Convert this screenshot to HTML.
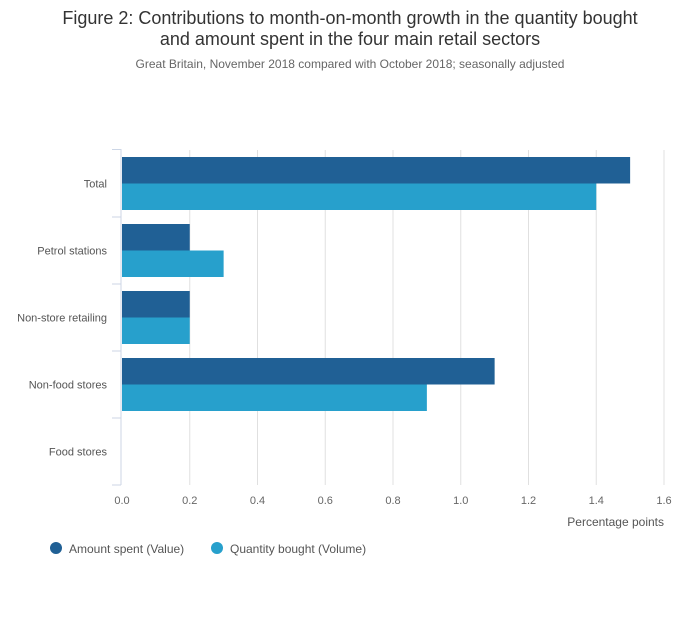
<!DOCTYPE html>
<html><head><meta charset="utf-8"><style>
body{margin:0;background:#fff;font-family:"Liberation Sans",sans-serif;}
svg text{font-family:"Liberation Sans",sans-serif;}
</style></head><body>
<svg id="c" width="700" height="635" xmlns="http://www.w3.org/2000/svg">
<text x="350" y="24" text-anchor="middle" font-size="18" fill="#333">Figure 2: Contributions to month-on-month growth in the quantity bought</text>
<text x="350" y="45" text-anchor="middle" font-size="18" fill="#333">and amount spent in the four main retail sectors</text>
<text x="350" y="68" text-anchor="middle" font-size="12" fill="#666">Great Britain, November 2018 compared with October 2018; seasonally adjusted</text>
<g id="grid"></g><g id="bars"></g><g id="axes"></g>
<text x="664" y="526" text-anchor="end" font-size="12" fill="#555">Percentage points</text>
<g>
<circle cx="56" cy="548" r="6" fill="#206095"/>
<text x="69" y="553" font-size="12" fill="#555">Amount spent (Value)</text>
<circle cx="217" cy="548" r="6" fill="#27a0cc"/>
<text x="230" y="553" font-size="12" fill="#555">Quantity bought (Volume)</text>
</g>
</svg>
<script>
const categories=["Total","Petrol stations","Non-store retailing","Non-food stores","Food stores"];
const valueSeries=[1.5,0.2,0.2,1.1,0];
const volumeSeries=[1.4,0.3,0.2,0.9,0];
const xTicks=[0,0.2,0.4,0.6,0.8,1.0,1.2,1.4,1.6];
const ns="http://www.w3.org/2000/svg";
const X0=122,X1=664,XMAX=1.6,Y0=150,BAND=67;
const x=v=>X0+(X1-X0)*v/XMAX;
function mk(t,a,p){const e=document.createElementNS(ns,t);for(const k in a)e.setAttribute(k,a[k]);p.appendChild(e);return e;}
const g=document.getElementById('grid'),b=document.getElementById('bars'),ax=document.getElementById('axes');
xTicks.forEach(t=>{
 if(t>0){const l=mk('line',{x1:x(t),x2:x(t),y1:Y0,y2:Y0+BAND*5,stroke:'#e0e0e0','stroke-width':1},g);
 
 }
 const tx=mk('text',{x:x(t),y:504,'text-anchor':'middle','font-size':11,fill:'#666'},ax);
 tx.textContent=t.toFixed(1);
 
 
});
const al=mk('line',{x1:121,x2:121,y1:Y0-1,y2:Y0+BAND*5,stroke:'#ccd6e6','stroke-width':1},ax);


categories.forEach((c,i)=>{
 const top=Y0+i*BAND;
 const tk=mk('line',{x1:112,x2:121,y1:top+ (i==0?-0.5:0),y2:top+(i==0?-0.5:0),stroke:'#ccd6e6'},ax);
 
 
 const lb=mk('text',{x:107,y:top+BAND/2+4,'text-anchor':'end','font-size':11,fill:'#555'},ax);
 lb.textContent=c;
 
 
 const r1=mk('rect',{x:X0,y:top+7,width:Math.max(0,x(valueSeries[i])-X0),height:26.5,fill:'#206095'},b);
 
 
 const r2=mk('rect',{x:X0,y:top+33.5,width:Math.max(0,x(volumeSeries[i])-X0),height:26.5,fill:'#27a0cc'},b);
 
 
});
const bt=mk('line',{x1:112,x2:121,y1:Y0+BAND*5,y2:Y0+BAND*5,stroke:'#ccd6e6'},ax);


</script>
</body></html>
